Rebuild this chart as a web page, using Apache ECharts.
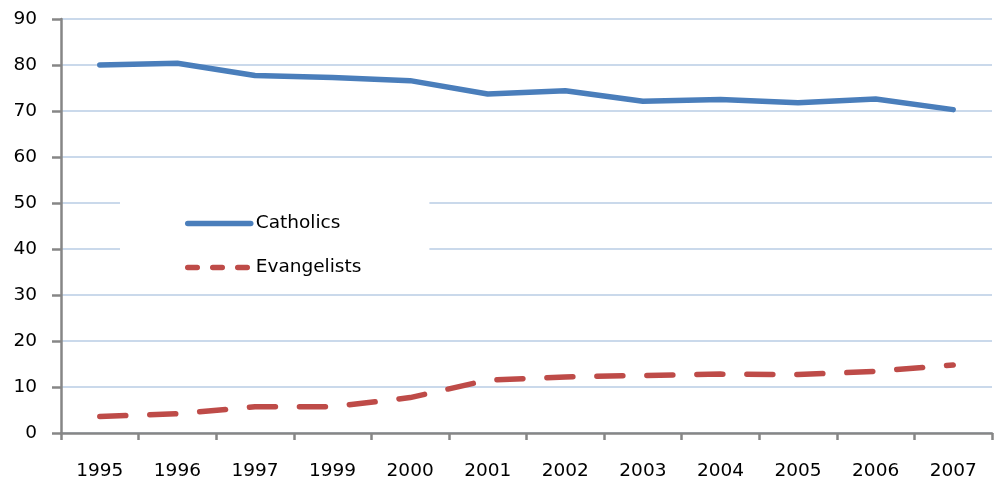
<!DOCTYPE html>
<html>
<head>
<meta charset="utf-8">
<script src="https://cdn.jsdelivr.net/npm/echarts@6/dist/echarts.min.js"></script>
<style>
  html, body { margin: 0; padding: 0; background: #fff; }
  #chart { width: 996px; height: 488px; }
</style>
</head>
<body>
<div id="chart"></div>
<script>
// Share of the population by religious affiliation (%)
const years = ['1995', '1996', '1997', '1999', '2000', '2001', '2002', '2003', '2004', '2005', '2006', '2007'];
const catholics = [80.0, 80.4, 77.7, 77.3, 76.6, 73.7, 74.4, 72.1, 72.5, 71.8, 72.6, 70.3];
const evangelists = [3.6, 4.2, 5.7, 5.7, 7.7, 11.5, 12.2, 12.5, 12.8, 12.7, 13.4, 14.8];
const yTicks = { min: 0, max: 90, step: 10 };

const FONT = '"DejaVu Sans", "Noto Sans", sans-serif';
const FONT_SIZE = 18.5;
const AXIS_GREY = '#868686';
const BLUE = '#4A7EBB';
const RED = '#BE4B48';

const chart = echarts.init(document.getElementById('chart'), null, { renderer: 'canvas' });

chart.setOption({
  animation: false,
  backgroundColor: '#ffffff',
  grid: { left: 61, right: 4, top: 19, height: 414, containLabel: false },
  legend: {
    orient: 'vertical',
    left: 120,
    top: 194,
    padding: [20, 68, 8, 65],
    backgroundColor: '#ffffff',
    itemWidth: 63,
    itemHeight: 14,
    itemGap: 25,
    itemStyle: { opacity: 0 },
    textStyle: { fontFamily: FONT, fontSize: FONT_SIZE, color: '#000' },
    data: [
      { name: 'Catholics', lineStyle: { width: 5.5, color: BLUE, type: 'solid', cap: 'round' } },
      { name: 'Evangelists', lineStyle: { width: 5.5, color: RED, type: [9.5, 15.5], cap: 'round' } }
    ]
  },
  xAxis: {
    type: 'category',
    data: years,
    boundaryGap: true,
    axisLine: { lineStyle: { color: AXIS_GREY, width: 2.5 } },
    axisTick: { show: true, length: 7, lineStyle: { color: AXIS_GREY, width: 2.5 } },
    axisLabel: { fontFamily: FONT, fontSize: FONT_SIZE, color: '#000', margin: 29 },
    splitLine: { show: false }
  },
  yAxis: {
    type: 'value',
    min: yTicks.min,
    max: yTicks.max,
    interval: yTicks.step,
    axisLine: { show: true, lineStyle: { color: AXIS_GREY, width: 2.5 } },
    axisTick: { show: true, length: 9, lineStyle: { color: AXIS_GREY, width: 2.5 } },
    axisLabel: { fontFamily: FONT, fontSize: FONT_SIZE, color: '#000', margin: 24 },
    splitLine: { show: true, lineStyle: { color: '#B9CDE5', width: 1.5 } }
  },
  series: [
    {
      name: 'Catholics',
      type: 'line',
      data: catholics,
      symbol: 'none',
      smooth: false,
      lineStyle: { color: BLUE, width: 5.5, cap: 'round', join: 'round' },
      itemStyle: { color: BLUE }
    },
    {
      name: 'Evangelists',
      type: 'line',
      data: evangelists,
      symbol: 'none',
      smooth: false,
      lineStyle: { color: RED, width: 5.5, type: [26, 24], cap: 'round', join: 'round' },
      itemStyle: { color: RED }
    }
  ]
});
</script>
</body>
</html>
